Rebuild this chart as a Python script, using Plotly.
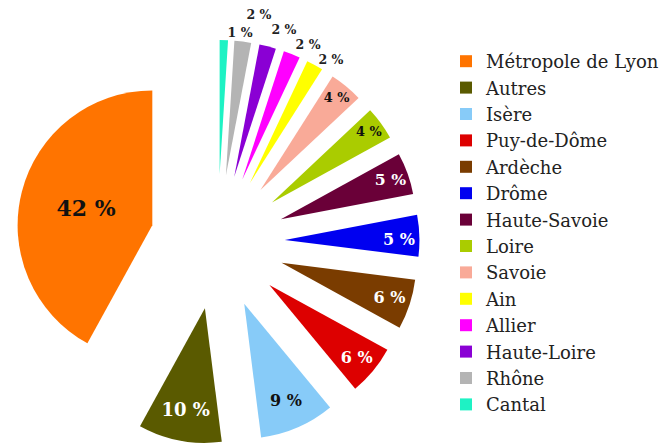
import plotly.graph_objects as go

labels = ["Métropole de Lyon", "Autres", "Isère", "Puy-de-Dôme", "Ardèche", "Drôme",
          "Haute-Savoie", "Loire", "Savoie", "Ain", "Allier", "Haute-Loire", "Rhône", "Cantal"]
values = [42, 10, 9, 6, 6, 5, 5, 4, 4, 2, 2, 2, 2, 1]
colors = ["#FF7400", "#5A5A00", "#87CBF8", "#DD0000", "#7A3C00", "#0000F0",
          "#6A0038", "#AACC00", "#F9AA98", "#FFFF00", "#FF00FF", "#8A00D4", "#B4B4B4", "#1EF2C4"]
text_colors = ["#111111", "#FFFFFF", "#111111", "#FFFFFF", "#FFFFFF", "#FFFFFF",
               "#FFFFFF", "#111111", "#111111", "#222222", "#222222", "#222222", "#222222", "#222222"]
text_sizes = [22, 18, 16, 16, 16, 16, 16, 15, 15, 12.5, 12.5, 12.5, 12.5, 12.5]

# slices labelled inside, and the groups of small slices labelled outside
# (each group is its own transparent overlay, so labels are staggered like the original)
inside_labels = [v >= 4 for v in values]
outside_groups = [
    # (labels shown, labels only used as invisible spacers)
    (["Ain", "Haute-Loire", "Rhône"], ["Allier"]),
    (["Allier"], ["Ain"]),
    (["Cantal"], []),
]

# first slice starts at 12 o'clock and the others follow counterclockwise
start_rotation = -values[0] / sum(values) * 360
domain = dict(x=[7.5 / 670, 411.5 / 670], y=[7 / 443, 411 / 443])
pulls = [0.5] * len(values)

fig = go.Figure()
fig.add_trace(go.Pie(
    labels=labels,
    values=values,
    marker=dict(colors=colors, line=dict(width=0)),
    pull=pulls,
    sort=False,
    direction="counterclockwise",
    rotation=start_rotation,
    texttemplate=["%{value} %" if ins else "" for ins in inside_labels],
    textposition=["inside" if ins else "none" for ins in inside_labels],
    insidetextorientation="horizontal",
    textfont=dict(family="DejaVu Serif", color=text_colors, size=text_sizes, weight="bold"),
    insidetextfont=dict(family="DejaVu Serif", color=text_colors, size=text_sizes, weight="bold"),
    domain=domain,
    hoverinfo="label+percent",
))

for shown, spacers in outside_groups:
    templates, positions = [], []
    for lab, col in zip(labels, text_colors):
        if lab in shown:
            templates.append("<span style='color:" + col + ";fill-opacity:1'>%{value} %</span>")
            positions.append("outside")
        elif lab in spacers:
            templates.append("%{value} %")
            positions.append("outside")
        else:
            templates.append("")
            positions.append("none")
    fig.add_trace(go.Pie(
        labels=labels,
        values=values,
        marker=dict(colors=["rgba(0,0,0,0)"] * len(values), line=dict(width=0)),
        pull=pulls,
        sort=False,
        direction="counterclockwise",
        rotation=start_rotation,
        texttemplate=templates,
        textposition=positions,
        outsidetextfont=dict(family="DejaVu Serif", color="rgba(0,0,0,0)", size=text_sizes, weight="bold"),
        domain=domain,
        showlegend=False,
        hoverinfo="skip",
    ))

fig.update_layout(
    width=670,
    height=443,
    margin=dict(l=0, r=0, t=0, b=0, autoexpand=False),
    paper_bgcolor="white",
    plot_bgcolor="white",
    font=dict(family="DejaVu Serif", color="#222222"),
    showlegend=True,
    legend=dict(
        x=438 / 670,
        y=1 - 35 / 443,
        xanchor="left",
        yanchor="top",
        font=dict(family="DejaVu Serif", size=18, color="#222222"),
        bgcolor="rgba(0,0,0,0)",
    ),
)

fig.write_html("out.html")
